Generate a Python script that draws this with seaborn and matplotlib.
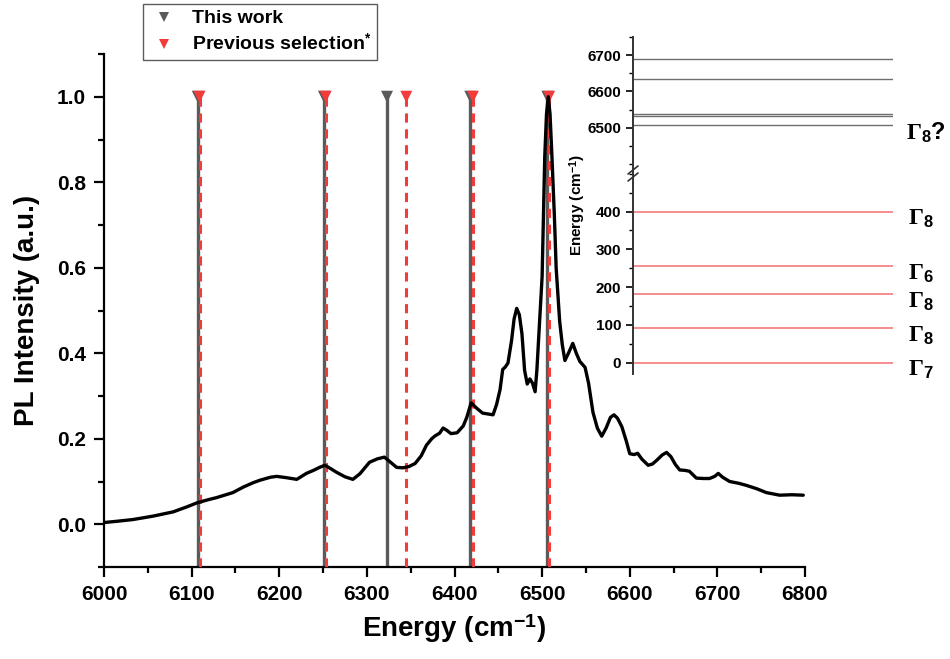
import matplotlib
matplotlib.use("Agg")
import matplotlib.pyplot as plt
from matplotlib.lines import Line2D
from matplotlib.ticker import MultipleLocator, FixedLocator
import numpy as np
import pandas as pd
import seaborn as sns

# PL spectrum
energy = [6000, 6015, 6033, 6056, 6079, 6095, 6106, 6120, 6128, 6147, 6159, 6170,
          6178, 6190, 6197, 6208, 6220, 6231, 6239, 6246, 6252, 6258, 6265, 6275,
          6284, 6292, 6303, 6312, 6320, 6327, 6334, 6341, 6348, 6355, 6362, 6368,
          6374, 6378, 6383, 6387, 6391, 6396, 6403, 6410, 6414, 6419, 6425, 6432,
          6438, 6444, 6448, 6452, 6455, 6458, 6461, 6465, 6468, 6471, 6474, 6477,
          6480, 6483, 6486, 6489, 6492, 6494, 6497, 6500, 6503, 6505, 6507, 6509,
          6511, 6514, 6516, 6520, 6523, 6526, 6530, 6535, 6539, 6543, 6549, 6553,
          6558, 6563, 6568, 6573, 6578, 6582, 6586, 6591, 6596, 6600, 6605, 6609,
          6614, 6621, 6626, 6631, 6637, 6642, 6647, 6652, 6657, 6663, 6668, 6676,
          6684, 6691, 6697, 6701, 6706, 6714, 6724, 6733, 6745, 6756, 6771, 6785,
          6798]
intensity = [0.004, 0.007, 0.011, 0.019, 0.029, 0.041, 0.050, 0.058, 0.062, 0.074, 0.087, 0.097,
             0.103, 0.110, 0.112, 0.109, 0.105, 0.119, 0.126, 0.133, 0.138, 0.131, 0.122, 0.111,
             0.105, 0.118, 0.145, 0.153, 0.157, 0.145, 0.133, 0.132, 0.135, 0.142, 0.160, 0.185,
             0.200, 0.207, 0.213, 0.225, 0.220, 0.212, 0.214, 0.230, 0.250, 0.284, 0.272, 0.260,
             0.258, 0.256, 0.280, 0.315, 0.362, 0.368, 0.377, 0.428, 0.480, 0.505, 0.490, 0.445,
             0.360, 0.328, 0.340, 0.330, 0.310, 0.360, 0.470, 0.580, 0.860, 0.960, 1.000, 0.960,
             0.870, 0.720, 0.600, 0.475, 0.420, 0.383, 0.400, 0.423, 0.400, 0.381, 0.367, 0.330,
             0.262, 0.225, 0.206, 0.225, 0.250, 0.256, 0.248, 0.228, 0.195, 0.165, 0.163, 0.166,
             0.152, 0.138, 0.141, 0.150, 0.162, 0.168, 0.158, 0.140, 0.127, 0.126, 0.124, 0.108,
             0.107, 0.107, 0.112, 0.119, 0.110, 0.100, 0.096, 0.091, 0.083, 0.074, 0.068, 0.069,
             0.068]

# Transition energies (cm-1)
this_work = [6107, 6251, 6323, 6418, 6506]
previous_selection = [6109, 6253, 6345, 6421, 6508]
marker_level = 1.0

# Crystal-field levels for the inset (cm-1)
ground_levels = [0, 91, 181, 255, 400]
ground_labels = [r"$\Gamma_{\mathbf{7}}$", r"$\Gamma_{\mathbf{8}}$", r"$\Gamma_{\mathbf{8}}$",
                 r"$\Gamma_{\mathbf{6}}$", r"$\Gamma_{\mathbf{8}}$"]
excited_levels = [6508, 6533, 6537, 6634, 6690]
excited_labels = [r"$\Gamma_{\mathbf{8}}\mathbf{?}$", "", "", "", ""]

x_ticks = [6000, 6100, 6200, 6300, 6400, 6500, 6600, 6700, 6800]
y_ticks = [0.0, 0.2, 0.4, 0.6, 0.8, 1.0]
inset_hi_ticks = [6500, 6600, 6700]
inset_lo_ticks = [0, 100, 200, 300, 400]

GREY = "#5a5a5a"
RED = "#f23c3c"
LEVEL_RED = "#f27a7a"
LEVEL_GREY = "#6e6e6e"

sns.set_style("ticks")
plt.rcParams["font.family"] = ["Liberation Sans", "DejaVu Sans"]
plt.rcParams["font.weight"] = "bold"
plt.rcParams["mathtext.fontset"] = "custom"
plt.rcParams["mathtext.rm"] = "Liberation Serif"
plt.rcParams["mathtext.bf"] = "Liberation Sans:bold"
plt.rcParams["mathtext.it"] = "Liberation Serif:italic"
for key in ("text.color", "axes.labelcolor", "xtick.color", "ytick.color", "axes.edgecolor"):
    plt.rcParams[key] = "black"

fig = plt.figure(figsize=(9.5, 6.59), dpi=100)
W, H = 950, 659


def fig_rect(x0, y0, x1, y1):
    return [x0 / W, 1 - y1 / H, (x1 - x0) / W, (y1 - y0) / H]


ax = fig.add_axes(fig_rect(104, 54, 805, 567))

# drop lines with triangle markers
ax.vlines(this_work, -0.1, marker_level, colors=GREY, linewidth=2.4, zorder=2)
ax.vlines(previous_selection, -0.1, marker_level, colors=RED, linewidth=2.2,
          linestyles=(0, (3.0, 2.2)), zorder=3)
marks = pd.DataFrame({
    "energy": this_work + previous_selection,
    "level": [marker_level] * (len(this_work) + len(previous_selection)),
    "set": ["This work"] * len(this_work) + ["Previous selection"] * len(previous_selection),
})
sns.scatterplot(data=marks, x="energy", y="level", hue="set",
                palette={"This work": GREY, "Previous selection": RED},
                marker="v", s=75, linewidth=0, legend=False, ax=ax, zorder=4,
                clip_on=False)

spec = pd.DataFrame({"energy": energy, "intensity": intensity})
sns.lineplot(data=spec, x="energy", y="intensity", color="black", linewidth=2.4,
             ax=ax, zorder=5)

ax.set_xlim(6000, 6800)
ax.set_ylim(-0.1, 1.1)
ax.set_xticks(x_ticks)
ax.set_yticks(y_ticks)
ax.xaxis.set_minor_locator(MultipleLocator(50))
ax.yaxis.set_minor_locator(MultipleLocator(0.1))
ax.set_yticklabels([f"{v:.1f}" for v in y_ticks])
for s in ("top", "right"):
    ax.spines[s].set_visible(False)
for s in ("left", "bottom"):
    ax.spines[s].set_linewidth(1.6)
ax.tick_params(which="major", direction="out", length=7, width=1.6,
               labelsize=15, pad=6)
ax.tick_params(which="minor", direction="out", length=4.5, width=1.6)
for lab in ax.get_xticklabels() + ax.get_yticklabels():
    lab.set_fontweight("bold")
ax.set_xlabel(r"Energy (cm$^{\mathbf{-1}}$)", fontsize=20, fontweight="bold", labelpad=6)
ax.set_ylabel("PL Intensity (a.u.)", fontsize=20, fontweight="bold", labelpad=12)

# legend
handles = [
    Line2D([], [], linestyle="none", marker="v", markersize=7, color=GREY, markeredgewidth=0),
    Line2D([], [], linestyle="none", marker="v", markersize=7, color=RED, markeredgewidth=0),
]
leg = fig.legend(handles, ["This work", r"Previous selection$^{\mathbf{*}}$"],
                 loc="upper left", bbox_to_anchor=(143 / W, 1 - 4 / H),
                 borderaxespad=0, frameon=True, fancybox=False,
                 prop={"weight": "bold", "size": 14},
                 handletextpad=0.6, borderpad=0.3, labelspacing=0.3,
                 handlelength=1.6)
leg.get_frame().set_edgecolor("#333333")
leg.get_frame().set_linewidth(1.0)

# inset: broken energy axis
ax_hi = fig.add_axes(fig_rect(633, 37, 893, 173))
ax_lo = fig.add_axes(fig_rect(633, 173, 893, 374))
for a in (ax_hi, ax_lo):
    a.set_facecolor("none")
    a.set_xlim(0, 1)
    a.set_xticks([])
    for s in ("top", "right", "bottom"):
        a.spines[s].set_visible(False)
    a.spines["left"].set_linewidth(1.4)
    a.spines["left"].set_color("#333333")
    a.tick_params(which="major", direction="out", length=5, width=1.2, labelsize=11)
    a.tick_params(which="minor", direction="out", length=3, width=1.0)

ax_hi.set_ylim(6375, 6750)
ax_hi.yaxis.set_major_locator(FixedLocator(inset_hi_ticks))
ax_hi.yaxis.set_minor_locator(MultipleLocator(50))
ax_lo.set_ylim(-30, 502)
ax_lo.yaxis.set_major_locator(FixedLocator(inset_lo_ticks))
ax_lo.yaxis.set_minor_locator(MultipleLocator(50))
for a in (ax_hi, ax_lo):
    for lab in a.get_yticklabels():
        lab.set_fontweight("bold")

ax_hi.hlines(excited_levels, 0, 1, colors=LEVEL_GREY, linewidth=1.0)
ax_lo.hlines(ground_levels, 0, 1, colors=LEVEL_RED, linewidth=1.2)

for lvl, lab in zip(excited_levels, excited_labels):
    if lab:
        ax_hi.annotate(lab, (1.0, lvl), xytext=(9, -6), textcoords="offset points",
                       fontsize=17, va="center", ha="left", annotation_clip=False)
for lvl, lab in zip(ground_levels, ground_labels):
    ax_lo.annotate(lab, (1.0, lvl), xytext=(11, -5), textcoords="offset points",
                   fontsize=17, va="center", ha="left", annotation_clip=False)

# break marks on the inset axis
for dy in (-4, 3):
    fig.add_artist(Line2D([628 / W, 638 / W], [1 - (173 - dy + 4) / H, 1 - (173 - dy - 4) / H],
                          color="#333333", linewidth=1.2))
fig.text(578 / W, 1 - 205 / H, r"Energy (cm$^{\mathbf{-1}}$)", rotation=90,
         fontsize=11, fontweight="bold", ha="center", va="center")

fig.savefig("out.png", dpi=100)
